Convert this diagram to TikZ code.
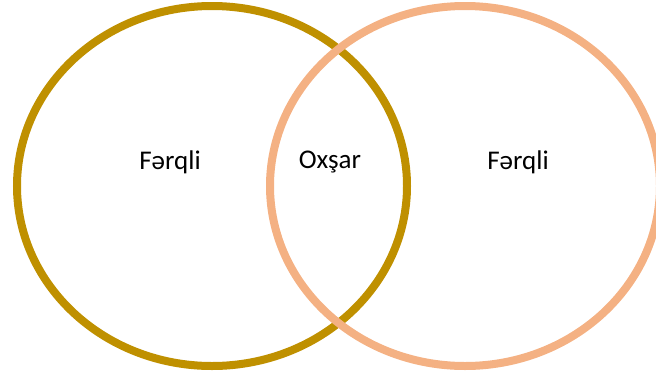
\documentclass[tikz,border=0pt]{standalone}
\usepackage{fontspec}
\setmainfont{Carlito}
\usepackage{xcolor}
\usepackage{tikz}
\definecolor{setgold}{RGB}{191,144,0}
\definecolor{setpeach}{RGB}{244,177,131}
\tikzset{
  setA/.style  = {draw=setgold, line width=8pt},
  setB/.style  = {draw=setpeach, line width=8pt},
  label/.style = {font=\fontsize{27}{32}\selectfont, inner sep=0pt},
}
\begin{document}
\begin{tikzpicture}[x=1pt, y=-1pt]
    \useasboundingbox (0,0) rectangle (656,373);

    %% Two sets
    \draw[setA] (212,186) ellipse [x radius=195, y radius=180];
    \draw[setB] (465,186) ellipse [x radius=195, y radius=180];

    %% Labels
    \node[label] (difL) at (170,162) {Fərqli};
    \node[label] (same) at (330,162) {Oxşar};
    \node[label] (difR) at (518,162) {Fərqli};

\end{tikzpicture}
\end{document}
